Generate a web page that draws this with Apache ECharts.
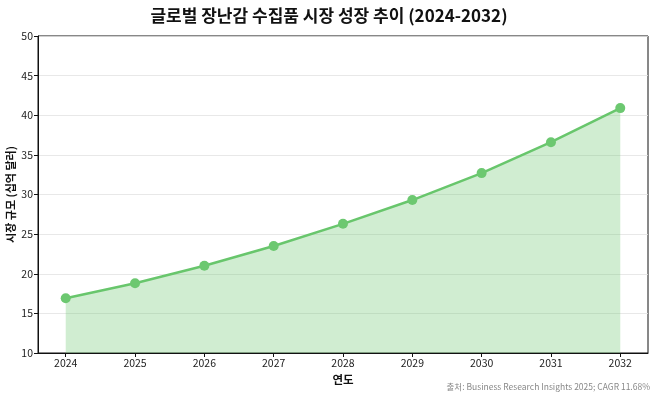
<!DOCTYPE html>
<html>
<head>
<meta charset="utf-8">
<script src="https://cdn.jsdelivr.net/npm/echarts@6/dist/echarts.min.js"></script>
<style>
  html, body { margin: 0; padding: 0; background: #fff; }
  #chart { width: 658px; height: 397px; }
</style>
</head>
<body>
<div id="chart"></div>
<script>
const years = [2024, 2025, 2026, 2027, 2028, 2029, 2030, 2031, 2032]
const marketSize = [16.9, 18.8, 21.0, 23.5, 26.3, 29.3, 32.7, 36.6, 40.9]

const font = '"Noto Sans CJK KR", "Noto Sans", sans-serif'
const chart = echarts.init(document.getElementById('chart'))

chart.setOption({
  backgroundColor: '#fff',
  animation: false,
  textStyle: { fontFamily: font },
  title: {
    text: '글로벌 장난감 수집품 시장 성장 추이 (2024-2032)',
    left: 'center',
    top: 2,
    textStyle: { fontFamily: font, fontSize: 17, fontWeight: 'bold', color: '#111' },
  },
  grid: {
    left: 38, right: 10, top: 36, bottom: 44,
    containLabel: false,
    outerBoundsMode: 'none',
    show: true, borderColor: '#111', borderWidth: 1, backgroundColor: '#fff',
  },
  xAxis: {
    type: 'value',
    min: 2023.6,
    max: 2032.4,
    name: '연도',
    nameLocation: 'middle',
    nameGap: 21,
    nameMoveOverlap: false,
    nameTextStyle: { fontFamily: font, fontSize: 11.5, fontWeight: 'bold', color: '#111' },
    axisLine: { show: true, lineStyle: { color: '#111', width: 1 } },
    axisTick: { show: true, length: 4, lineStyle: { color: '#111' }, customValues: years },
    axisLabel: { fontSize: 10.5, color: '#222', margin: 5, customValues: years, formatter: (v) => String(v) },
    splitLine: { show: false },
  },
  yAxis: {
    type: 'value',
    min: 10,
    max: 50,
    interval: 5,
    name: '시장 규모 (십억 달러)',
    nameLocation: 'middle',
    nameGap: 22,
    nameMoveOverlap: false,
    nameTextStyle: { fontFamily: font, fontSize: 11, fontWeight: 'bold', color: '#111' },
    axisLine: { show: true, lineStyle: { color: '#111', width: 1 } },
    axisTick: { show: true, length: 4, lineStyle: { color: '#111' } },
    axisLabel: { fontSize: 10.5, color: '#222', margin: 5 },
    splitLine: { show: true, lineStyle: { color: '#e2e2e2', width: 0.8 } },
  },
  series: [
    {
      type: 'line',
      data: years.map((y, i) => [y, marketSize[i]]),
      symbol: 'circle',
      symbolSize: 10,
      lineStyle: { color: '#68c66c', width: 2.5 },
      itemStyle: { color: '#6cc870' },
      areaStyle: { color: 'rgba(108,200,112,0.32)', opacity: 1, origin: 'start' },
      z: 3,
    },
  ],
  graphic: [
    {
      type: 'text',
      right: 8,
      bottom: 6,
      style: {
        text: '출처: Business Research Insights 2025; CAGR 11.68%',
        fontFamily: font,
        fontSize: 8.5,
        fill: '#888',
      },
    },
  ],
})
</script>
</body>
</html>
